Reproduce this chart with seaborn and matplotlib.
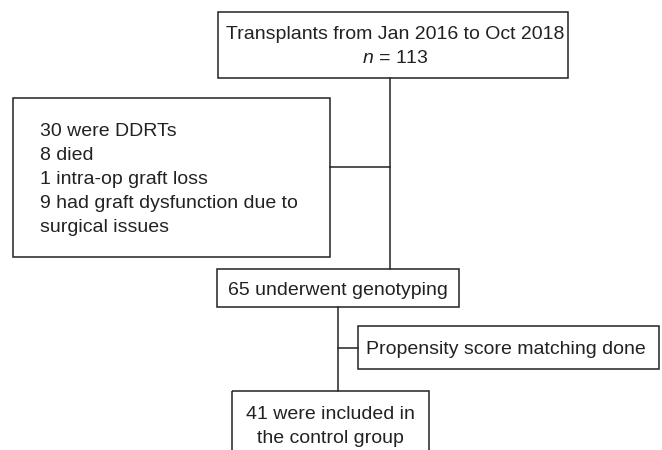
import matplotlib
matplotlib.use("Agg")
import matplotlib.pyplot as plt
import seaborn as sns
from matplotlib.patches import Rectangle

# Flowchart content
box_names = ["transplants", "excluded", "genotyped", "psm", "control"]
box_texts = [
    "Transplants from Jan 2016 to Oct 2018\n$\\it{n}$ = 113",
    "30 were DDRTs\n8 died\n1 intra-op graft loss\n9 had graft dysfunction due to\nsurgical issues",
    "65 underwent genotyping",
    "Propensity score matching done",
    "41 were included in\nthe control group",
]
text_align = ["center", "left", "center", "left", "center"]

# Layout in pixel units (x0, y0, x1, y1), y grows downwards
box_pos = {
    "transplants": (218, 12, 568, 78),
    "excluded": (13, 98, 330, 257),
    "genotyped": (217, 269, 459, 307),
    "psm": (358, 326, 659, 369),
    "control": (232, 391, 429, 470),
}
text_anchor = {
    "transplants": (395, 46.5),
    "excluded": (40, 179.5),
    "genotyped": (338, 290.5),
    "psm": (366, 350),
    "control": (330, 426.5),
}
# connector segments (x0, y0, x1, y1)
links = [
    (390, 78, 390, 269),
    (330, 167, 390, 167),
    (338, 307, 338, 391),
    (338, 348, 358, 348),
]

sns.set_theme(style="white")
plt.rcParams["font.family"] = ["Liberation Sans", "DejaVu Sans"]
plt.rcParams["mathtext.fontset"] = "custom"
plt.rcParams["mathtext.it"] = "Liberation Sans:italic"
plt.rcParams["mathtext.rm"] = "Liberation Sans"

fig = plt.figure(figsize=(6.62, 4.5), dpi=100)
ax = fig.add_axes([0, 0, 1, 1])
ax.set_xlim(0, 662)
ax.set_ylim(450, 0)
ax.axis("off")

for name, label, ha in zip(box_names, box_texts, text_align):
    x0, y0, x1, y1 = box_pos[name]
    ax.add_patch(Rectangle((x0, y0), x1 - x0, y1 - y0, fill=False,
                           edgecolor="#222222", linewidth=1.1))
    tx, ty = text_anchor[name]
    ax.text(tx, ty, label, ha=ha, va="center", fontsize=14,
            color="#222222", linespacing=1.52, multialignment=ha)

for x0, y0, x1, y1 in links:
    ax.plot([x0, x1], [y0, y1], color="#222222", linewidth=1.1)

fig.savefig("out.png", dpi=100)
